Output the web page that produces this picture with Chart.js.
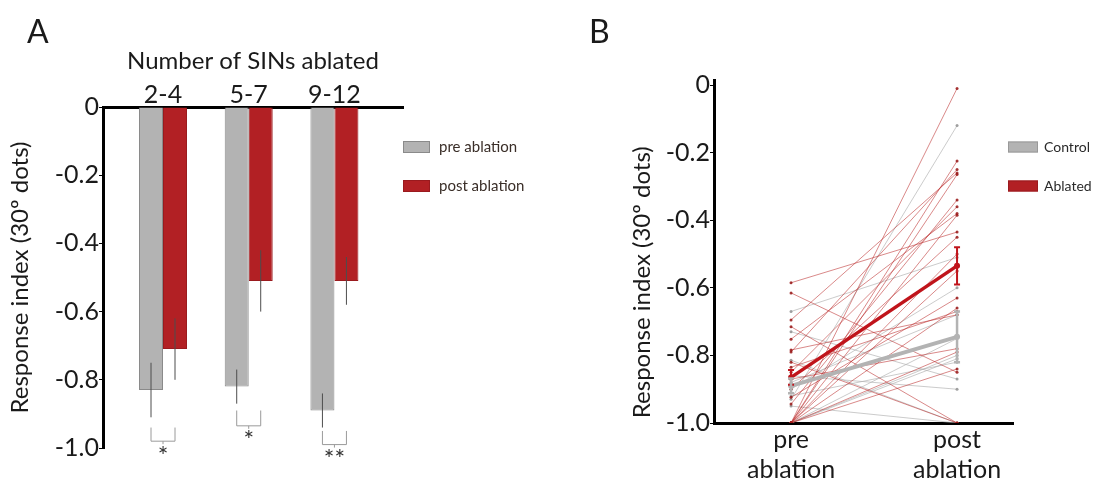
<!DOCTYPE html>
<html>
<head>
<meta charset="utf-8">
<script src="https://cdn.jsdelivr.net/npm/chart.js@4.4.0/dist/chart.umd.min.js"></script>
<style>
  body { margin: 0; background: #fff; }
  #wrap { position: relative; width: 1097px; height: 480px; }
  canvas { position: absolute; top: 0; }
  .panel { position: absolute; font: 32px Lato, sans-serif; color: #1a1a1a; line-height: 1; }
</style>
</head>
<body>
<div id="wrap">
  <canvas id="barChart" width="560" height="480" style="left:0"></canvas>
  <canvas id="lineChart" width="537" height="480" style="left:560px"></canvas>
  <div class="panel" style="left:27px;top:15px">A</div>
  <div class="panel" style="left:589px;top:15px">B</div>
</div>
<script>
// ---- panel A: mean response per group of ablated SINs
const groups = ['2-4', '5-7', '9-12'];
const preMean = [-0.83, -0.82, -0.89];
const postMean = [-0.71, -0.51, -0.51];
const preSem = [0.08, 0.05, 0.05];
const postSem = [0.09, 0.09, 0.07];
const sigTop = [-0.94, -0.89, -0.95];
const sigBottom = [-0.98, -0.935, -0.99];
const sigMarks = ['*', '*', '**'];

// ---- panel B: single fish, pre vs post
const phases = [['pre', 'ablation'], ['post', 'ablation']];
const ablPre  = [-0.585, -0.615, -0.695, -0.715, -0.752, -0.784, -0.79, -0.835, -0.85, -0.87, -0.924, -0.944,
                 -1.0, -1.0, -1.0, -1.0, -1.0, -1.0, -1.0, -1.0, -1.0, -0.82, -0.9];
const ablPost = [-0.435, -0.85, -0.26, -1.0, -0.38, -0.68, -0.25, -0.67, -0.36, -0.78, -0.63, -0.34,
                 -0.01, -0.225, -0.265, -0.385, -0.5, -0.55, -0.66, -0.79, -0.84, -1.0, -0.45];
const ctrlPre  = [-0.67, -0.73, -0.814, -0.9, -0.93, -1.0, -1.0, -1.0, -0.86, -0.95, -0.88, -0.92];
const ctrlPost = [-0.51, -0.87, -1.0, -0.6, -0.12, -0.8, -0.81, -0.75, -0.9, -1.0, -0.68, -0.82];
const ablMean = [-0.865, -0.535];
const ablSem = [0.022, 0.055];
const ctrlMean = [-0.89, -0.745];
const ctrlSem = [0.022, 0.075];

const GRAY = '#b3b3b3';
const RED = '#b22024';
const Y_TITLE = 'Response index (30º dots)';

Chart.defaults.font.family = 'Lato, sans-serif';
Chart.defaults.color = '#1a1a1a';

const tickFmt = v => (v === 0 ? '0' : v.toFixed(1));

// vertical error lines, drawn through the y scale
function errorBars(sets) {
  return {
    id: 'errorBars',
    afterDatasetsDraw(chart) {
      const { ctx, scales: { y } } = chart;
      ctx.save();
      sets.forEach(s => {
        chart.getDatasetMeta(s.dataset).data.forEach((el, i) => {
          const top = y.getPixelForValue(s.mean[i] + s.sem[i]);
          const bot = y.getPixelForValue(s.mean[i] - s.sem[i]);
          ctx.strokeStyle = s.color;
          ctx.lineWidth = s.width;
          ctx.beginPath();
          ctx.moveTo(el.x, top);
          ctx.lineTo(el.x, bot);
          if (s.cap) {
            ctx.moveTo(el.x - s.cap, top); ctx.lineTo(el.x + s.cap, top);
            ctx.moveTo(el.x - s.cap, bot); ctx.lineTo(el.x + s.cap, bot);
          }
          ctx.stroke();
        });
      });
      ctx.restore();
    }
  };
}

// legend to the right of the plot
function sideLegend(cfg) {
  return {
    id: 'sideLegend',
    afterDraw(chart) {
      const { ctx } = chart;
      ctx.save();
      cfg.items.forEach((it, i) => {
        const yc = cfg.top + i * cfg.step;
        ctx.fillStyle = it.fill;
        ctx.fillRect(cfg.left, yc - cfg.boxH / 2, cfg.boxW, cfg.boxH);
        ctx.strokeStyle = it.stroke;
        ctx.lineWidth = 1;
        ctx.strokeRect(cfg.left + 0.5, yc - cfg.boxH / 2 + 0.5, cfg.boxW - 1, cfg.boxH - 1);
        ctx.fillStyle = cfg.color;
        ctx.font = cfg.font;
        ctx.textBaseline = 'middle';
        ctx.fillText(it.text, cfg.left + cfg.boxW + cfg.gap, yc);
      });
      ctx.restore();
    }
  };
}

const sigBrackets = {
  id: 'sigBrackets',
  afterDraw(chart) {
    const { ctx, scales: { y } } = chart;
    const a = chart.getDatasetMeta(0).data;
    const b = chart.getDatasetMeta(1).data;
    ctx.save();
    groups.forEach((g, i) => {
      const x1 = a[i].x, x2 = b[i].x, mid = (x1 + x2) / 2;
      const t = y.getPixelForValue(sigTop[i]);
      const bt = y.getPixelForValue(sigBottom[i]);
      ctx.strokeStyle = '#9a9a9a';
      ctx.lineWidth = 1;
      ctx.beginPath();
      ctx.moveTo(x1, t); ctx.lineTo(x1, bt); ctx.lineTo(x2, bt); ctx.lineTo(x2, t);
      ctx.moveTo(mid, bt); ctx.lineTo(mid, bt + 3);
      ctx.stroke();
      ctx.fillStyle = '#333';
      ctx.font = '25px Lato, sans-serif';
      ctx.textAlign = 'center';
      ctx.textBaseline = 'top';
      ctx.fillText(sigMarks[i], mid, bt + 3);
    });
    ctx.restore();
  }
};

new Chart(document.getElementById('barChart'), {
  type: 'bar',
  data: {
    datasets: [
      {
        label: 'pre ablation',
        data: preMean.map((v, i) => ({ x: i + 1, y: v })),
        backgroundColor: GRAY, borderColor: '#8a8a8a', borderWidth: 1
      },
      {
        label: 'post ablation',
        data: postMean.map((v, i) => ({ x: i + 1, y: v })),
        backgroundColor: RED, borderColor: '#9a1a1e', borderWidth: 1
      }
    ]
  },
  options: {
    responsive: false,
    animation: false,
    devicePixelRatio: 1,
    layout: { padding: { left: 0, right: 157, top: 40, bottom: 32 } },
    categoryPercentage: 0.56,
    barPercentage: 1.0,
    plugins: { legend: { display: false }, tooltip: { enabled: false } },
    scales: {
      x: {
        type: 'linear', position: 'top', offset: false,
        min: 0.3, max: 3.8,
        grid: { display: false, drawTicks: false },
        border: { display: true, color: '#000', width: 3 },
        afterBuildTicks: axis => { axis.ticks = groups.map((g, i) => ({ value: i + 1 })); },
        ticks: { callback: (v, i) => groups[i], font: { size: 25, lineHeight: 1 }, padding: 0, maxRotation: 0 },
        title: { display: true, text: 'Number of SINs ablated', font: { size: 24 }, padding: { top: 7, bottom: 0 } },
        afterFit: axis => { axis.height = 67; }
      },
      y: {
        min: -1, max: 0,
        grid: { display: true, drawOnChartArea: false, drawTicks: true, tickLength: 4, color: '#000' },
        border: { display: true, color: '#000', width: 3 },
        ticks: { stepSize: 0.2, callback: tickFmt, font: { size: 25 }, padding: 0 },
        title: { display: true, text: Y_TITLE, font: { size: 24 }, padding: { top: 6 } },
        afterFit: axis => { axis.width = 103; }
      }
    }
  },
  plugins: [
    errorBars([
      { dataset: 0, mean: preMean, sem: preSem, color: '#4d4d4d', width: 1 },
      { dataset: 1, mean: postMean, sem: postSem, color: '#4d4d4d', width: 1 }
    ]),
    sigBrackets,
    sideLegend({
      left: 403, top: 147, step: 39, boxW: 27, boxH: 12, gap: 9,
      font: '15px Lato, sans-serif', color: '#3a2e28',
      items: [
        { text: 'pre ablation', fill: GRAY, stroke: '#8a8a8a' },
        { text: 'post ablation', fill: RED, stroke: '#9a1a1e' }
      ]
    })
  ]
});

// ---- panel B
const pair = (a, b) => [{ x: 0, y: a }, { x: 1, y: b }];
const thin = (pre, post, color, dot, order) => pre.map((v, i) => ({
  label: '',
  data: pair(v, post[i]),
  showLine: true,
  borderColor: color, borderWidth: 1,
  pointRadius: 1.5, pointBackgroundColor: dot, pointBorderWidth: 0,
  order
}));

new Chart(document.getElementById('lineChart'), {
  type: 'scatter',
  data: {
    datasets: [
      {
        label: 'Ablated', data: pair(ablMean[0], ablMean[1]), showLine: true,
        borderColor: '#c0141b', borderWidth: 3.5, pointRadius: 3, pointBackgroundColor: '#c0141b',
        pointBorderWidth: 0, order: 0
      },
      {
        label: 'Control', data: pair(ctrlMean[0], ctrlMean[1]), showLine: true,
        borderColor: GRAY, borderWidth: 4, pointRadius: 3, pointBackgroundColor: GRAY,
        pointBorderWidth: 0, order: 1
      },
      ...thin(ablPre, ablPost, 'rgba(185,40,40,0.55)', 'rgba(150,20,20,0.85)', 2),
      ...thin(ctrlPre, ctrlPost, 'rgba(175,175,175,0.65)', 'rgba(150,150,150,0.9)', 3)
    ]
  },
  options: {
    responsive: false,
    animation: false,
    devicePixelRatio: 1,
    layout: { padding: { left: 0, right: 84, top: 80, bottom: 0 } },
    plugins: { legend: { display: false }, tooltip: { enabled: false } },
    scales: {
      x: {
        type: 'linear', min: -0.464, max: 1.337,
        grid: { display: false, drawTicks: false },
        border: { display: true, color: '#000', width: 3 },
        afterBuildTicks: axis => { axis.ticks = phases.map((p, i) => ({ value: i })); },
        ticks: { callback: (v, i) => phases[i], font: { size: 25 }, padding: 2, maxRotation: 0 },
        afterFit: axis => { axis.height = 57; }
      },
      y: {
        min: -1, max: 0.015,
        grid: { display: true, drawOnChartArea: false, drawTicks: true, tickLength: 4, color: '#000' },
        border: { display: true, color: '#000', width: 3 },
        afterBuildTicks: axis => { axis.ticks = axis.ticks.filter(t => t.value <= 0); },
        ticks: { stepSize: 0.2, callback: tickFmt, font: { size: 25 }, padding: 0, includeBounds: false },
        // trailing spaces push the rotated title down to line up with panel A
        title: { display: true, text: Y_TITLE + '          ', font: { size: 24 }, padding: { top: 68 } },
        afterFit: axis => { axis.width = 154; }
      }
    }
  },
  plugins: [
    errorBars([
      { dataset: 0, mean: ablMean, sem: ablSem, color: '#c0141b', width: 2, cap: 3 },
      { dataset: 1, mean: ctrlMean, sem: ctrlSem, color: GRAY, width: 2.5, cap: 3 }
    ]),
    sideLegend({
      left: 448, top: 147, step: 39, boxW: 30, boxH: 11, gap: 6,
      font: '14px Lato, sans-serif', color: '#2a2a2a',
      items: [
        { text: 'Control', fill: GRAY, stroke: '#999' },
        { text: 'Ablated', fill: RED, stroke: '#9a1a1e' }
      ]
    })
  ]
});
</script>
</body>
</html>
